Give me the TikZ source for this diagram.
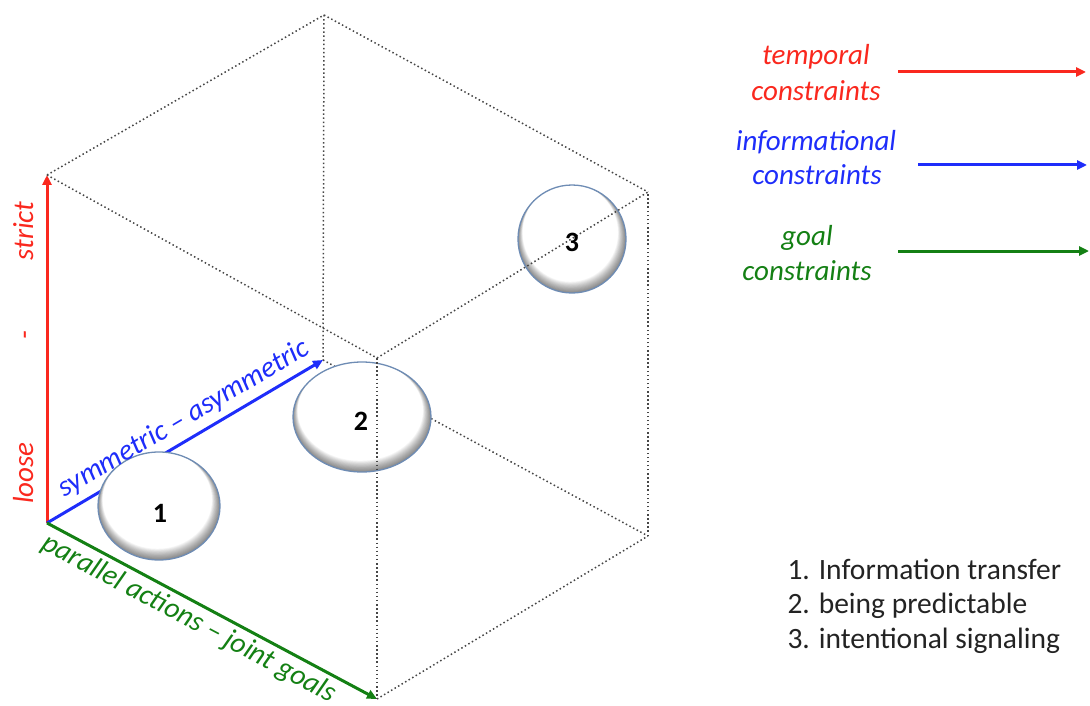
\documentclass[tikz,border=0pt]{standalone}
\usepackage{fontspec}
\setmainfont{Carlito}
\usetikzlibrary{arrows.meta,shapes.geometric}

\definecolor{axred}{RGB}{250,40,30}
\definecolor{axblue}{RGB}{30,45,250}
\definecolor{axgreen}{RGB}{20,128,20}
\definecolor{rimblue}{RGB}{110,140,180}
\definecolor{edgegray}{RGB}{70,70,70}
\definecolor{legendtext}{RGB}{35,35,35}

\begin{document}
\begin{tikzpicture}[x=1pt,y=-1pt,
  cubeedge/.style={draw=edgegray, line width=1.5pt, dash pattern=on 1.5pt off 2.6pt},
  axis/.style={line width=3pt, -{Triangle[length=10pt,width=9pt]}},
  ital/.style={font=\fontsize{29}{35}\selectfont\itshape},
  plain/.style={font=\fontsize{29.5}{35}\selectfont, text=legendtext},
  num/.style={font=\fontsize{28}{32}\selectfont\bfseries, text=black},
  bubble/.style 2 args={ellipse, inner sep=0pt,
    minimum width={2*#1pt}, minimum height={2*#2pt},
    draw=rimblue, line width=1.3pt, fill=white,
    path picture={
      \foreach \k in {1,...,14} {
        \fill[black, opacity=0.04, even odd rule]
          ([shift={(-40pt,-40pt)}]path picture bounding box.south west) rectangle
          ([shift={(40pt,40pt)}]path picture bounding box.north east)
          ([shift={(-0.12*\k pt, 0.45*\k pt)}]path picture bounding box.center)
            ellipse [x radius={#1pt-0.45*\k pt}, y radius={#2pt-0.35*\k pt}];
      }
    }}
]
\useasboundingbox (0,0) rectangle (1090,706);

% cube corners
\coordinate (O)   at (47,523);
\coordinate (R)   at (47,175);
\coordinate (B)   at (323,360);
\coordinate (G)   at (377,699);
\coordinate (RB)  at (324,15);
\coordinate (RG)  at (377,358);
\coordinate (BG)  at (648,536);
\coordinate (RBG) at (648,192);

% hidden edges behind the bubbles
\draw[cubeedge] (RB) -- (B);
\draw[cubeedge] (B) -- (BG);

% axes
\draw[axis, axred]   (O) -- (R);
\draw[axis, axblue]  (O) -- (B);
\draw[axis, axgreen] (O) -- (G);

% bubbles
\node[bubble={61}{54}] (b1) at (159,506) {};
\node[bubble={69}{55}] (b2) at (362,417) {};
\node[bubble={54}{54}] (b3) at (572,239) {};

% visible edges
\draw[cubeedge] (R) -- (RB);
\draw[cubeedge] (RB) -- (RBG);
\draw[cubeedge] (R) -- (RG);
\draw[cubeedge] (RG) -- (RBG);
\draw[cubeedge] (RG) -- (G);
\draw[cubeedge] (G) -- (BG);
\draw[cubeedge] (BG) -- (RBG);

% bubble numbers
\node[num] (n1) at (160,513) {1};
\node[num] (n2) at (361,421) {2};
\node[num] (n3) at (572,242) {3};

% axis labels
\node[ital, text=axred, rotate=90, anchor=base] (strict) at (33,231) {strict};
\node[ital, text=axred, rotate=90, anchor=base] (dash) at (33,335) {-};
\node[ital, text=axred, rotate=90, anchor=base] (loose) at (33,473) {loose};
\node[ital, text=axblue, rotate=30.4] (symlbl) at (184,419) {symmetric – asymmetric};
\node[ital, text=axgreen, rotate=-27.9] (parlbl) at (189,619) {parallel actions – joint goals};

% legend of constraint types
\node[ital, text=axred, anchor=base] (t1) at (816,65) {temporal};
\node[ital, text=axred, anchor=base] (t2) at (816,101) {constraints};
\node[ital, text=axblue, anchor=base] (i1) at (816,150) {informational};
\node[ital, text=axblue, anchor=base] (i2) at (817,185) {constraints};
\node[ital, text=axgreen, anchor=base] (g1) at (807,245) {goal};
\node[ital, text=axgreen, anchor=base] (g2) at (807,280) {constraints};

\coordinate (ta) at (898,72);   \coordinate (tb) at (1086,72);
\coordinate (ia) at (918,165);  \coordinate (ib) at (1087,165);
\coordinate (ga) at (898,251);  \coordinate (gb) at (1089,251);
\draw[axis, axred]   (ta) -- (tb);
\draw[axis, axblue]  (ia) -- (ib);
\draw[axis, axgreen] (ga) -- (gb);

% legend of the numbered bubbles
\node[plain, anchor=base west] (l1) at (784,579) {1. Information transfer};
\node[plain, anchor=base west] (l2) at (784,613) {2. being predictable};
\node[plain, anchor=base west] (l3) at (784,648) {3. intentional signaling};
\end{tikzpicture}
\end{document}
